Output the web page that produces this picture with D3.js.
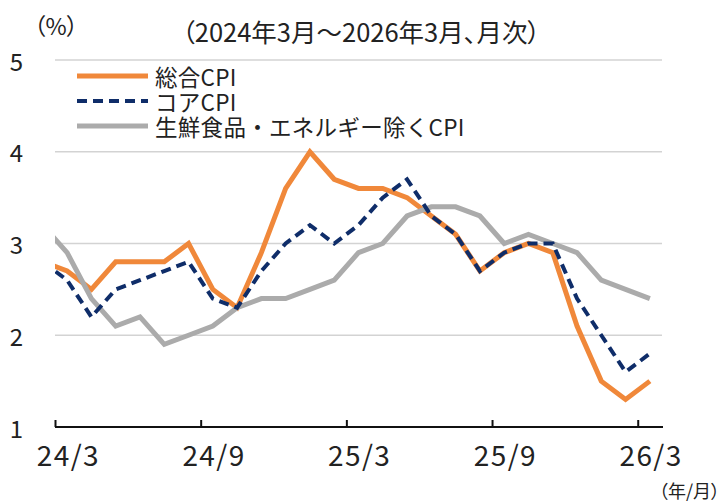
<!DOCTYPE html>
<html>
<head>
<meta charset="utf-8">
<script src="https://cdn.jsdelivr.net/npm/d3@7"></script>
<style>
  body { margin: 0; background: #fff; }
  svg text { font-family: "Noto Sans CJK JP", "Noto Sans", sans-serif; fill: #222; }
  .palt { font-feature-settings: "palt"; }
</style>
</head>
<body>
<svg id="chart" width="721" height="502"></svg>
<script>
// months: 24/2 is only used so the lines run in from the left edge (clipped)
const months = ["24/2","24/3","24/4","24/5","24/6","24/7","24/8","24/9","24/10","24/11","24/12",
                "25/1","25/2","25/3","25/4","25/5","25/6","25/7","25/8","25/9","25/10","25/11","25/12",
                "26/1","26/2","26/3"];
const tickLabels = ["24/3","24/9","25/3","25/9","26/3"];
const yTicks = [1, 2, 3, 4, 5];

const headline = [2.8, 2.7, 2.5, 2.8, 2.8, 2.8, 3.0, 2.5, 2.3, 2.9, 3.6,
                  4.0, 3.7, 3.6, 3.6, 3.5, 3.3, 3.1, 2.7, 2.9, 3.0, 2.9, 2.1,
                  1.5, 1.3, 1.5];
const core     = [2.8, 2.6, 2.2, 2.5, 2.6, 2.7, 2.8, 2.4, 2.3, 2.7, 3.0,
                  3.2, 3.0, 3.2, 3.5, 3.7, 3.3, 3.1, 2.7, 2.9, 3.0, 3.0, 2.4,
                  2.0, 1.6, 1.8];
const coreCore = [3.2, 2.9, 2.4, 2.1, 2.2, 1.9, 2.0, 2.1, 2.3, 2.4, 2.4,
                  2.5, 2.6, 2.9, 3.0, 3.3, 3.4, 3.4, 3.3, 3.0, 3.1, 3.0, 2.9,
                  2.6, 2.5, 2.4];

const seriesNames = ["総合CPI", "コアCPI", "生鮮食品・エネルギー除くCPI"];

const svg = d3.select("#chart");
const plotLeft = 55, plotRight = 662, plotTop = 60, plotBottom = 427;

// index 0 = 24/3, each month is a band; points sit in the band middle
const x = d3.scaleLinear().domain([-0.5, 24.5]).range([plotLeft, plotRight]);
const y = d3.scaleLinear().domain([1, 5]).range([plotBottom, plotTop]);

svg.append("defs").append("clipPath").attr("id", "plot")
   .append("rect").attr("x", plotLeft).attr("y", 0).attr("width", plotRight - plotLeft).attr("height", 502);

// grid
svg.append("g").selectAll("line")
   .data(yTicks.filter(d => d > 1))
   .join("line")
   .attr("x1", plotLeft).attr("x2", plotRight)
   .attr("y1", d => y(d)).attr("y2", d => y(d))
   .attr("stroke", "#d3d3d3").attr("stroke-width", 1.5);

// y labels
svg.append("g").selectAll("text")
   .data(yTicks)
   .join("text")
   .attr("x", 16.5).attr("y", d => y(d))
   .attr("text-anchor", "middle").attr("dominant-baseline", "central")
   .style("font-size", "24px")
   .text(d => d);

// x axis
const tickIdx = tickLabels.map(t => months.indexOf(t) - 1);
const xAxis = d3.axisBottom(x)
   .tickValues(tickIdx.map(i => i - 0.5))
   .tickSize(-7)
   .tickFormat((d, i) => tickLabels[i]);

const gx = svg.append("g")
   .attr("transform", "translate(0," + plotBottom + ")")
   .call(xAxis);
gx.select(".domain").remove();
gx.append("line").attr("x1", plotLeft).attr("x2", plotRight + 1)
   .attr("stroke", "#111").attr("stroke-width", 2);
gx.selectAll(".tick line").attr("stroke", "#111").attr("stroke-width", 2);
gx.selectAll(".tick text")
   .attr("x", x(0) - x(-0.5) + 0.7).attr("y", 27).attr("dy", null)
   .attr("dominant-baseline", "central")
   .attr("fill", "#222")
   .style("font-size", "28px")
   .style("letter-spacing", "1.4px")
   .style("font-family", "'Noto Sans CJK JP', sans-serif");

// lines
const line = d3.line()
   .x((d, i) => x(i - 1))
   .y(d => y(d));

const lineGroup = svg.append("g").attr("clip-path", "url(#plot)");
const styles = [
  { data: headline, color: "#F0883A", width: 5, dash: null },
  { data: coreCore, color: "#ABABAB", width: 5, dash: null },
  { data: core,     color: "#0F2D69", width: 4, dash: "10,6" }
];
styles.forEach(s => {
  lineGroup.append("path")
     .datum(s.data)
     .attr("d", line)
     .attr("fill", "none")
     .attr("stroke", s.color)
     .attr("stroke-width", s.width)
     .attr("stroke-linejoin", "miter")
     .attr("stroke-dasharray", s.dash);
});

// legend
const legendColors = ["#F0883A", "#0F2D69", "#ABABAB"];
const legendDash = [null, "10,6", null];
const lg = svg.append("g");
seriesNames.forEach((name, i) => {
  const ly = 76 + i * 25;
  lg.append("line")
    .attr("x1", 77).attr("x2", 148).attr("y1", ly).attr("y2", ly)
    .attr("stroke", legendColors[i])
    .attr("stroke-width", i === 1 ? 4 : 5)
    .attr("stroke-dasharray", legendDash[i]);
  lg.append("text")
    .attr("x", 155).attr("y", ly)
    .attr("dominant-baseline", "central")
    .style("font-size", "22.5px")
    .style("letter-spacing", "0.3px")
    .text(name);
});

// titles
svg.append("text").attr("x", 34).attr("y", 25)
   .attr("class", "palt")
   .attr("dominant-baseline", "central")
   .style("font-size", "23px")
   .text("（%）");
svg.append("text").attr("x", 182).attr("y", 30)
   .attr("class", "palt")
   .attr("dominant-baseline", "central")
   .style("font-size", "25.5px")
   .text("（2024年3月～2026年3月、月次）");
svg.append("text").attr("x", 720).attr("y", 490)
   .attr("class", "palt")
   .attr("text-anchor", "end")
   .attr("dominant-baseline", "central")
   .style("font-size", "18px")
   .text("（年/月）");
</script>
</body>
</html>
